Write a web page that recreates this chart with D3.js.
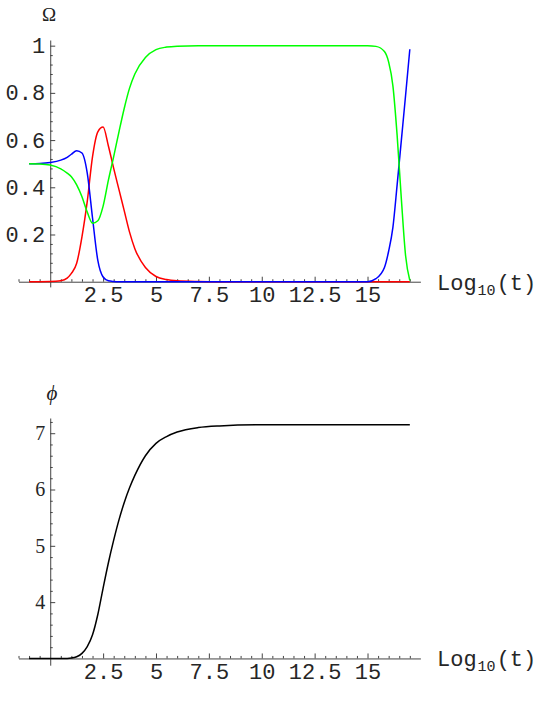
<!DOCTYPE html>
<html>
<head>
<meta charset="utf-8">
<script src="https://cdnjs.cloudflare.com/ajax/libs/d3/7.8.5/d3.min.js"></script>
<style>
  body { margin: 0; background: #fff; }
  .tick text { font-family: "Liberation Mono", monospace; font-size: 22px; fill: #262626; }
  .phi-y .tick text { font-family: "Liberation Serif", serif; font-size: 20px; }
  .domain { stroke: #444; }
  .tick line { stroke: #444; }
</style>
</head>
<body>
<svg id="chart" width="545" height="707"></svg>
<script>
// log10(t) sample points, shared by all curves
var logT = [-1, -0.5, 0, 0.5, 0.8, 1.0, 1.25, 1.5, 1.75, 2.0, 2.25, 2.5, 2.75, 3.0,
            3.25, 3.5, 3.75, 4.0, 4.5, 5.0, 5.5, 6, 7, 8, 10, 12, 14, 15, 15.4,
            15.8, 16.0, 16.2, 16.4, 16.6, 16.8, 17];

// density parameters (top panel)
var omegaRed   = [0, 0, 0.0005, 0.004, 0.015, 0.035, 0.078, 0.19, 0.34, 0.53, 0.635, 0.655, 0.575, 0.48,
                  0.39, 0.30, 0.21, 0.14, 0.06, 0.022, 0.009, 0.004, 0.001, 0, 0, 0, 0, 0, 0,
                  0, 0, 0, 0, 0, 0, 0];
var omegaGreen = [0.5, 0.499, 0.494, 0.478, 0.46, 0.445, 0.41, 0.36, 0.295, 0.248, 0.258, 0.32, 0.43, 0.53,
                  0.635, 0.735, 0.82, 0.88, 0.95, 0.983, 0.994, 0.998, 1, 1, 1, 1, 1, 1, 0.997,
                  0.975, 0.93, 0.83, 0.62, 0.35, 0.11, 0.005];
var omegaBlue  = [0.5, 0.501, 0.505, 0.515, 0.527, 0.54, 0.555, 0.545, 0.46, 0.27, 0.09, 0.02, 0.004, 0.001,
                  0, 0, 0, 0, 0, 0, 0, 0, 0, 0, 0, 0, 0, 0, 0.013,
                  0.06, 0.13, 0.23, 0.41, 0.60, 0.79, 0.985];

// scalar field (bottom panel)
var phiVals = [3.0, 3.0, 3.0, 3.0, 3.001, 3.006, 3.03, 3.09, 3.21, 3.42, 3.78, 4.25, 4.7, 5.1,
               5.46, 5.77, 6.03, 6.25, 6.6, 6.82, 6.94, 7.02, 7.1, 7.13, 7.15, 7.15, 7.15, 7.15, 7.15,
               7.15, 7.15, 7.15, 7.15, 7.15, 7.15, 7.15];

var xMajor = [2.5, 5, 7.5, 10, 12.5, 15];
var omegaMajor = [0.2, 0.4, 0.6, 0.8, 1];
var phiMajor = [4, 5, 6, 7];

var svg = d3.select("#chart");

var x = d3.scaleLinear().domain([-1.5, 17.5]).range([18.5, 420.4]);

var xMinor = d3.range(-1.5, 17.51, 0.5).filter(function(d) { return Math.abs(d / 2.5 - Math.round(d / 2.5)) > 1e-6; });

function drawPanel(y, xAt, yMajor, yMinor, yFormat, yClass, series, yLabel) {
  var g = svg.append("g");

  // x axis: minor ticks, then major ticks with labels
  g.append("g")
    .attr("transform", "translate(0," + y(xAt) + ")")
    .call(d3.axisBottom(x).tickValues(xMinor).tickSizeInner(-2.5).tickSizeOuter(0).tickFormat(""));
  g.append("g")
    .attr("transform", "translate(0," + y(xAt) + ")")
    .call(d3.axisBottom(x).tickValues(xMajor).tickSizeInner(-5).tickSizeOuter(0).tickPadding(5)
      .tickFormat(function(d) { return String(d); }))
    .call(function(a) { a.select(".domain").remove(); });

  // y axis
  g.append("g")
    .attr("transform", "translate(" + x(0) + ",0)")
    .call(d3.axisLeft(y).tickValues(yMinor).tickSizeInner(-2.5).tickSizeOuter(0).tickFormat(""));
  g.append("g")
    .attr("class", yClass)
    .attr("transform", "translate(" + x(0) + ",0)")
    .call(d3.axisLeft(y).tickValues(yMajor).tickSizeInner(-5).tickSizeOuter(0).tickPadding(5).tickFormat(yFormat))
    .call(function(a) { a.select(".domain").remove(); });

  g.selectAll(".domain").attr("stroke-width", 1);

  // curves
  series.forEach(function(s) {
    var line = d3.line()
      .x(function(d, i) { return x(logT[i]); })
      .y(function(d) { return y(d); })
      .curve(d3.curveMonotoneX);
    g.append("path")
      .datum(s.values)
      .attr("fill", "none")
      .attr("stroke", s.color)
      .attr("stroke-width", 1.5)
      .attr("d", line);
  });

  // axis label on x
  var lbl = g.append("text")
    .attr("x", 437)
    .attr("y", y(xAt) + 8)
    .style("font-family", "Liberation Mono, monospace")
    .style("font-size", "22px")
    .attr("fill", "#262626");
  lbl.append("tspan").text("Log");
  lbl.append("tspan").attr("dy", 5).attr("dx", 1).style("font-size", "15px").text("10");
  lbl.append("tspan").attr("dy", -5).attr("dx", 1).text("(t)");

  // y label
  g.append("text")
    .attr("x", yLabel.x)
    .attr("y", yLabel.y)
    .attr("text-anchor", "middle")
    .style("font-family", "Liberation Serif, serif")
    .style("font-size", yLabel.size + "px")
    .style("font-style", yLabel.italic ? "italic" : "normal")
    .attr("fill", "#222")
    .text(yLabel.text);
}

// top panel
var yOmega = d3.scaleLinear().domain([-0.022, 1.024]).range([286.9, 40.0]);
var omegaMinor = d3.range(0.04, 1.001, 0.04).filter(function(d) { return Math.abs(d / 0.2 - Math.round(d / 0.2)) > 1e-6; });
drawPanel(yOmega, 0, omegaMajor, omegaMinor,
  function(d) { return d === 1 ? "1" : d3.format(".1f")(d); }, "omega-y",
  [{values: omegaRed, color: "#ff0000"}, {values: omegaBlue, color: "#0000ff"}, {values: omegaGreen, color: "#00ff00"}],
  {text: "\u03A9", x: 49, y: 21, size: 19, italic: false});

// bottom panel
var yPhi = d3.scaleLinear().domain([2.88, 7.27]).range([665.2, 418.0]);
var phiMinor = d3.range(3.2, 7.21, 0.2).filter(function(d) { return Math.abs(d - Math.round(d)) > 1e-6; });
drawPanel(yPhi, 3, phiMajor, phiMinor, function(d) { return String(d); }, "phi-y",
  [{values: phiVals, color: "#000000"}],
  {text: "\u03D5", x: 52, y: 400, size: 21, italic: true});
</script>
</body>
</html>
